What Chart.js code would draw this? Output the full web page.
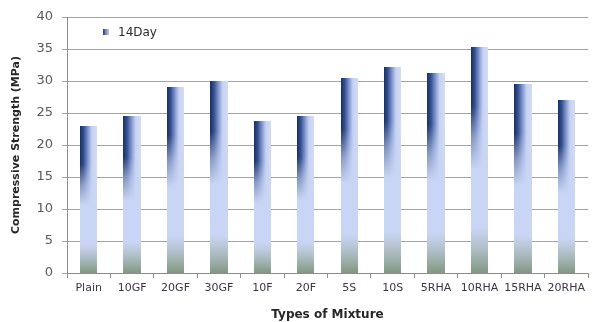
<!DOCTYPE html>
<html>
<head>
<meta charset="utf-8">
<script src="https://cdn.jsdelivr.net/npm/chart.js@4"></script>
<style>
  html, body { margin: 0; padding: 0; background: #ffffff; }
  #wrap { width: 596px; height: 322px; }
</style>
</head>
<body>
<div id="wrap"><canvas id="c" width="596" height="322"></canvas></div>
<script>
// Mixture types along the x axis
const categories = ['Plain', '10GF', '20GF', '30GF', '10F', '20F', '5S', '10S', '5RHA', '10RHA', '15RHA', '20RHA'];
// 14-day compressive strength (MPa)
const strength14Day = [23.0, 24.5, 29.1, 30.0, 23.7, 24.5, 30.4, 32.2, 31.2, 35.3, 29.5, 27.0];
const seriesLabel = '14Day';
const yTicks = [0, 5, 10, 15, 20, 25, 30, 35, 40];

const BAR_LIGHT = '#c9d5f4';

// Paints each bar in place of the plain fill: dark navy on the left fading
// down into pale blue, with a grey-green foot near the base
const barShading = {
  id: 'barShading',
  afterDatasetsDraw(chart) {
    const ctx = chart.ctx;
    const meta = chart.getDatasetMeta(0);
    ctx.save();
    meta.data.forEach(bar => {
      const p = bar.getProps(['x', 'y', 'base', 'width'], true);
      const x0 = Math.round(p.x - p.width / 2);
      const w = Math.round(p.x + p.width / 2) - x0;
      const top = Math.round(Math.min(p.y, p.base));
      const bottom = Math.round(Math.max(p.y, p.base));
      const h = bottom - top;

      // pale body
      ctx.fillStyle = BAR_LIGHT;
      ctx.fillRect(x0, top, w, h);

      // side-lit upper part: dark left edge to pale right edge
      const darkEnd = Math.round(h * 0.6);
      const hg = ctx.createLinearGradient(x0, 0, x0 + w, 0);
      hg.addColorStop(0.00, '#1b2e5e');
      hg.addColorStop(0.22, '#34508f');
      hg.addColorStop(0.48, '#8499d2');
      hg.addColorStop(0.70, '#c6d2f2');
      hg.addColorStop(1.00, '#d3dcf6');
      ctx.fillStyle = hg;
      ctx.fillRect(x0, top, w, darkEnd);

      // pale wash fading the dark shading out towards the middle
      const y1 = top + Math.round(h * 0.26), y2 = top + h * 0.54;
      const lg = ctx.createLinearGradient(0, y1, 0, y2);
      lg.addColorStop(0, 'rgba(201,213,244,0)');
      lg.addColorStop(0.5, 'rgba(201,213,244,0.6)');
      lg.addColorStop(1, 'rgba(201,213,244,1)');
      ctx.fillStyle = lg;
      ctx.fillRect(x0, y1, w, bottom - y1);

      // grey-green foot
      const gStart = top + Math.round(h * 0.80);
      const vg = ctx.createLinearGradient(0, gStart, 0, bottom);
      vg.addColorStop(0, 'rgba(150,168,150,0)');
      vg.addColorStop(1, 'rgba(122,146,118,0.92)');
      ctx.fillStyle = vg;
      ctx.fillRect(x0, gStart, w, bottom - gStart);
    });
    ctx.restore();
  }
};

// Legend entry drawn inside the plot area, top-left
const innerLegend = {
  id: 'innerLegend',
  afterDraw(chart) {
    const ctx = chart.ctx;
    const a = chart.chartArea;
    const sx = Math.round(a.left + 36), sy = Math.round(a.top + 12), s = 6;
    ctx.save();
    const g = ctx.createLinearGradient(sx, 0, sx + s, 0);
    g.addColorStop(0, '#2a4076');
    g.addColorStop(1, '#c9d5f4');
    ctx.fillStyle = g;
    ctx.fillRect(sx, sy, s, s);
    ctx.fillStyle = '#2b2b2b';
    ctx.font = '12px "DejaVu Sans"';
    ctx.textBaseline = 'middle';
    ctx.fillText(chart.data.datasets[0].label, sx + 15, sy + 3.5);
    ctx.restore();
  }
};

new Chart(document.getElementById('c'), {
  type: 'bar',
  data: {
    labels: categories,
    datasets: [{
      label: seriesLabel,
      data: strength14Day,
      backgroundColor: 'rgba(0,0,0,0)',
      borderWidth: 0,
      categoryPercentage: 1.0,
      barPercentage: 0.4
    }]
  },
  options: {
    responsive: false,
    animation: false,
    devicePixelRatio: 1,
    layout: { padding: { top: 17, right: 8, bottom: 0, left: 0 } },
    plugins: {
      legend: { display: false },
      tooltip: { enabled: false }
    },
    scales: {
      x: {
        offset: true,
        grid: { offset: true, drawOnChartArea: false, tickLength: 5, color: '#8c8c8c' },
        border: { color: '#8c8c8c' },
        ticks: {
          color: '#3e3446',
          font: { family: 'DejaVu Sans', size: 11 },
          padding: 4,
          maxRotation: 0,
          autoSkip: false
        },
        title: {
          display: true,
          text: 'Types of Mixture',
          color: '#262626',
          font: { family: 'DejaVu Sans', size: 12, weight: 'bold' },
          padding: { top: 0, bottom: 0 }
        },
        afterFit(scale) { scale.height = 49; }
      },
      y: {
        min: 0,
        max: 40,
        afterBuildTicks(scale) { scale.ticks = yTicks.map(v => ({ value: v })); },
        grid: { color: '#a3a3a3', tickLength: 5 },
        border: { color: '#8c8c8c' },
        ticks: {
          color: '#595959',
          font: { family: 'DejaVu Sans', size: 13 },
          padding: 9
        },
        title: {
          display: true,
          text: 'Compressive Strength (MPa)',
          color: '#262626',
          font: { family: 'DejaVu Sans', size: 11, weight: 'bold' },
          padding: { top: 10, bottom: 0 }
        },
        afterFit(scale) { scale.width = 67; }
      }
    }
  },
  plugins: [barShading, innerLegend]
});
</script>
</body>
</html>
